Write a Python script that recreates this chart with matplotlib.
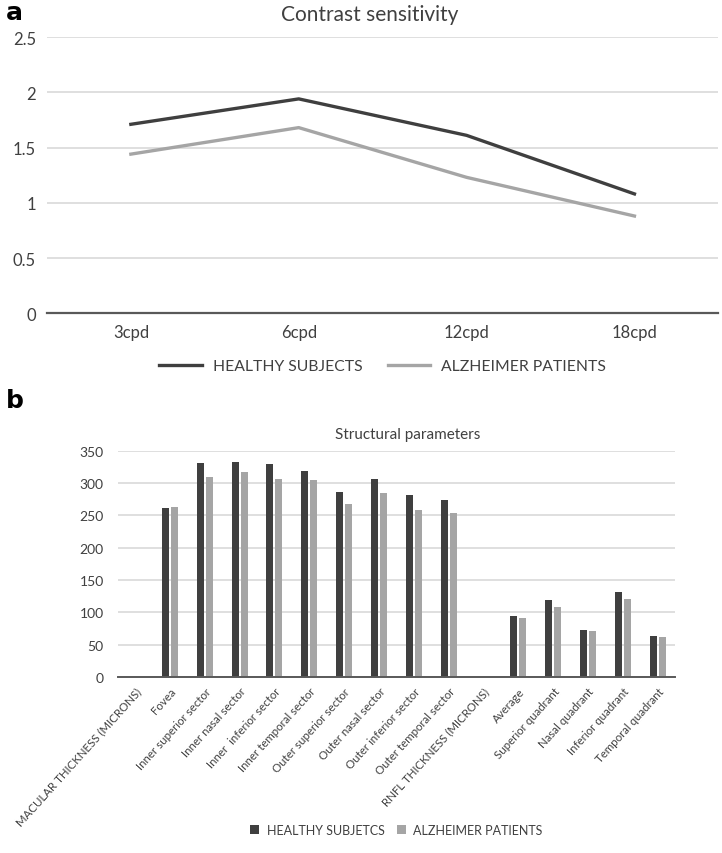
import numpy as np
import matplotlib
matplotlib.use("Agg")
from matplotlib import pyplot as plt

plt.rcParams['font.family'] = ['Lato', 'DejaVu Sans']

DARK = "#3f3f3f"
LIGHT = "#a5a5a5"
GRID = "#d9d9d9"
TXT = "#404040"

# panel a: contrast sensitivity
freqs = ["3cpd", "6cpd", "12cpd", "18cpd"]
cs_healthy = [1.71, 1.94, 1.61, 1.08]
cs_alzheimer = [1.44, 1.68, 1.23, 0.88]

# panel b: structural parameters
params = ["MACULAR THICKNESS (MICRONS)", "Fovea", "Inner superior sector",
          "Inner nasal sector", "Inner  inferior sector", "Inner temporal sector",
          "Outer superior sector", "Outer nasal sector", "Outer inferior sector",
          "Outer temporal sector", "RNFL THICKNESS (MICRONS)", "Average",
          "Superior quadrant", "Nasal quadrant", "Inferior quadrant",
          "Temporal quadrant"]
st_healthy = [np.nan, 262, 331, 333, 330, 319, 287, 306, 281, 274,
              np.nan, 95, 119, 73, 131, 64]
st_alzheimer = [np.nan, 263, 310, 317, 307, 305, 268, 285, 258, 254,
                np.nan, 91, 109, 71, 120, 62]

fig = plt.figure(figsize=(7.22, 8.54), dpi=100)

# ---- panel a
ax1 = fig.add_axes([0.065, 0.632, 0.93, 0.3235])
x = np.arange(len(freqs))
ax1.plot(x, cs_healthy, color=DARK, lw=2.4, label="HEALTHY SUBJECTS")
ax1.plot(x, cs_alzheimer, color=LIGHT, lw=2.4, label="ALZHEIMER PATIENTS")
ax1.set_xlim(-0.5, len(freqs) - 0.5)
ax1.set_ylim(0, 2.5)
ax1.set_yticks([0, 0.5, 1, 1.5, 2, 2.5])
ax1.set_yticklabels(["0", "0.5", "1", "1.5", "2", "2.5"])
ax1.set_xticks(x)
ax1.set_xticklabels(freqs)
ax1.yaxis.grid(True, color=GRID, lw=1.2)
ax1.set_axisbelow(True)
for s in ["top", "right", "left"]:
    ax1.spines[s].set_visible(False)
ax1.spines["bottom"].set_color("#595959")
ax1.spines["bottom"].set_linewidth(1.6)
ax1.tick_params(length=0, labelsize=12, colors=TXT, pad=8)
ax1.set_title("Contrast sensitivity", fontsize=15, color=TXT, pad=12, x=0.48)
ax1.legend(loc="upper center", bbox_to_anchor=(0.5, -0.115), ncol=2,
           frameon=False, fontsize=11.3, handlelength=2.7, columnspacing=1.6,
           handletextpad=0.7, labelcolor=TXT)
fig.text(0.008, 0.985, "a", fontsize=18, fontweight="bold", va="center",
         family="DejaVu Sans")

# ---- panel b
ax2 = fig.add_axes([0.163, 0.206, 0.772, 0.265])
xb = np.arange(len(params))
w = 0.2
ax2.bar(xb - 0.13, st_healthy, w, color=DARK, label="HEALTHY SUBJETCS")
ax2.bar(xb + 0.13, st_alzheimer, w, color=LIGHT, label="ALZHEIMER PATIENTS")
ax2.set_xlim(-0.5, len(params) - 0.5)
ax2.set_ylim(0, 350)
ax2.set_yticks(np.arange(0, 351, 50))
ax2.set_xticks(xb)
ax2.set_xticklabels(params, rotation=48, ha="right", rotation_mode="anchor")
ax2.yaxis.grid(True, color=GRID, lw=1.2)
ax2.set_axisbelow(True)
for s in ["top", "right", "left"]:
    ax2.spines[s].set_visible(False)
ax2.spines["bottom"].set_color("#595959")
ax2.spines["bottom"].set_linewidth(1.4)
ax2.tick_params(axis="y", length=0, labelsize=10, colors=TXT, pad=10)
ax2.tick_params(axis="x", length=0, labelsize=8.3, colors=TXT, pad=6)
ax2.set_title("Structural parameters", fontsize=11, color=TXT, pad=9, x=0.52)
ax2.legend(loc="lower center", bbox_to_anchor=(0.5, -0.75), ncol=2,
           frameon=False, fontsize=9, handlelength=0.7, handleheight=0.7,
           columnspacing=1.0, handletextpad=0.6, labelcolor=TXT)
fig.text(0.008, 0.531, "b", fontsize=18, fontweight="bold", va="center",
         family="DejaVu Sans")

fig.savefig("out.png", dpi=100, facecolor="white")
